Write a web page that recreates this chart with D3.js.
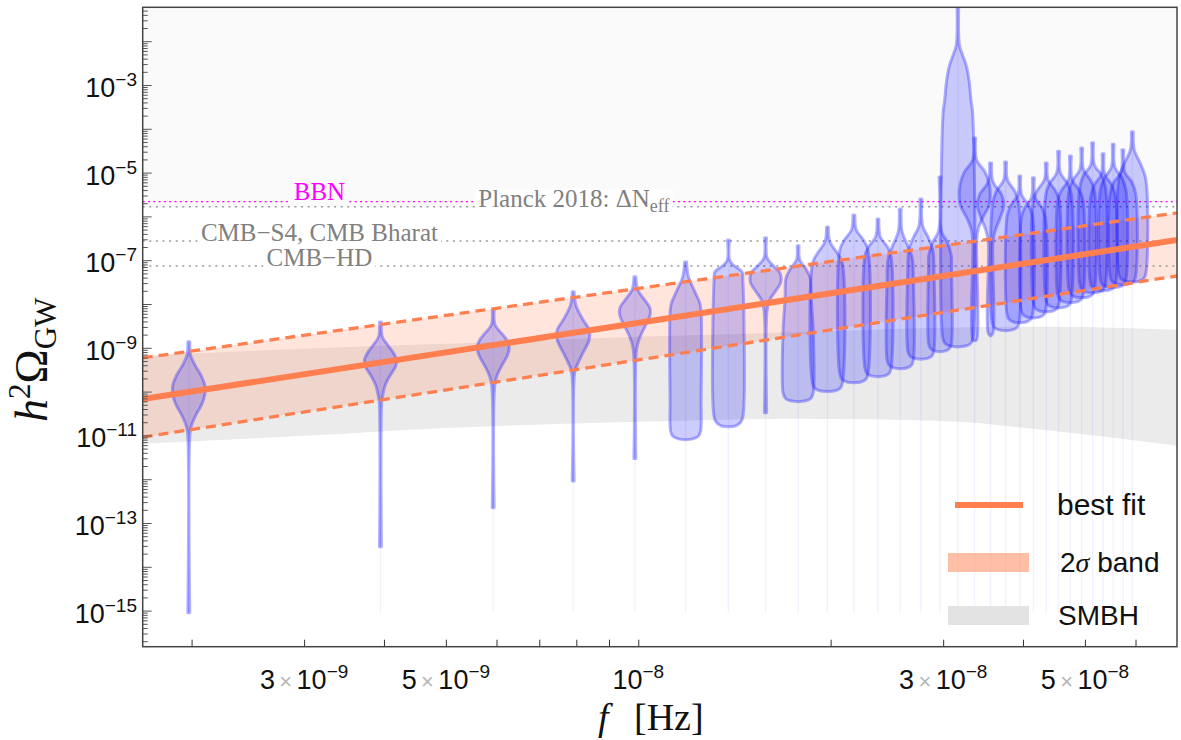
<!DOCTYPE html>
<html>
<head>
<meta charset="utf-8">
<script src="https://cdn.jsdelivr.net/npm/d3@7"></script>
<style>
  html, body { margin: 0; padding: 0; background: #fff; }
  svg { display: block; }
</style>
</head>
<body>
<svg id="chart" width="1181" height="740"></svg>
<script>
// frequency bins (Hz)
const freqs = [1.98e-9, 3.95e-9, 5.93e-9, 7.91e-9, 9.88e-9, 1.186e-8, 1.384e-8, 1.582e-8, 1.779e-8, 1.977e-8,
  2.175e-8, 2.372e-8, 2.570e-8, 2.768e-8, 2.966e-8, 3.163e-8, 3.361e-8, 3.559e-8, 3.757e-8, 3.954e-8,
  4.152e-8, 4.349e-8, 4.547e-8, 4.745e-8, 4.942e-8, 5.140e-8, 5.337e-8, 5.535e-8, 5.733e-8, 5.931e-8];

// violin profiles per bin: [log10 h2Omega, relative density]
const violins = [
  [[-8.86,.06],[-9.18,.12],[-9.39,.38],[-9.62,.75],[-9.85,1],[-10.07,1],[-10.30,.8],[-10.53,.45],[-10.76,.18],[-10.94,.08],[-15.05,.06]],
  [[-8.41,.06],[-8.75,.12],[-8.93,.44],[-9.11,.8],[-9.27,1],[-9.43,.94],[-9.62,.62],[-9.85,.3],[-10.07,.15],[-10.23,.08],[-13.54,.06]],
  [[-8.13,.06],[-8.48,.12],[-8.66,.5],[-8.84,.88],[-9.00,1],[-9.18,.88],[-9.39,.56],[-9.62,.25],[-9.85,.1],[-12.65,.06]],
  [[-7.72,.06],[-8.04,.18],[-8.36,.62],[-8.59,1],[-8.82,1],[-9.11,.62],[-9.39,.25],[-9.55,.1],[-12.04,.06]],
  [[-7.38,.06],[-7.68,.18],[-7.91,.62],[-8.09,.94],[-8.27,.94],[-8.52,.62],[-8.82,.25],[-9.05,.1],[-11.53,.06]],
  [[-7.04,.06],[-7.38,.18],[-7.75,.62],[-7.97,.88],[-8.18,.97],[-10.19,.97],[-10.90,.94],[-11.02,.8],[-11.08,.45],[-11.10,0]],
  [[-6.54,.06],[-6.99,.07],[-7.11,.3],[-7.27,.85],[-7.45,.9],[-10.45,.94],[-10.68,.8],[-10.78,.45],[-10.80,0]],
  [[-6.49,.06],[-6.95,.1],[-7.13,.5],[-7.29,.9],[-7.50,.95],[-7.72,.6],[-7.91,.25],[-8.13,.1],[-10.48,.07]],
  [[-6.67,.06],[-6.99,.1],[-7.18,.45],[-7.40,.75],[-7.91,.82],[-8.59,.94],[-10.03,.94],[-10.15,.8],[-10.21,.47],[-10.23,0]],
  [[-6.24,.06],[-6.58,.15],[-6.83,.6],[-7.06,.92],[-9.80,.94],[-9.92,.8],[-9.98,.47],[-10.00,0]],
  [[-5.97,.06],[-6.31,.15],[-6.54,.6],[-6.77,.88],[-9.60,.88],[-9.72,.75],[-9.78,.44],[-9.80,0]],
  [[-6.06,.06],[-6.47,.15],[-6.70,.6],[-6.92,.82],[-9.46,.82],[-9.58,.7],[-9.64,.41],[-9.66,0]],
  [[-5.83,.06],[-6.35,.12],[-6.65,.45],[-6.95,.75],[-7.40,.82],[-9.28,.82],[-9.40,.7],[-9.46,.41],[-9.48,0]],
  [[-5.60,.06],[-6.22,.12],[-6.47,.45],[-6.77,.75],[-7.22,.82],[-9.06,.82],[-9.18,.7],[-9.24,.41],[-9.26,0]],
  [[-5.10,.06],[-6.35,.1],[-6.58,.45],[-6.88,.7],[-7.22,.72],[-8.89,.72],[-9.01,.6],[-9.07,.36],[-9.09,0]],
  [[-1.10,.06],[-2.09,.1],[-2.32,.3],[-2.59,.55],[-2.95,.72],[-3.34,.82],[-3.62,.92],[-8.78,.94],[-8.90,.8],[-8.96,.47],[-8.98,0]],
  [[-4.21,.06],[-4.71,.12],[-4.99,.65],[-5.28,.92],[-5.74,.9],[-6.03,.5],[-6.31,.2],[-6.60,.12],[-8.82,.12],[-8.84,0]],
  [[-4.78,.06],[-5.21,.15],[-5.51,.7],[-5.76,.82],[-6.03,.6],[-6.31,.3],[-6.58,.15],[-8.66,.15],[-8.73,0]],
  [[-4.76,.06],[-5.17,.12],[-5.44,.6],[-5.74,.82],[-8.41,.85],[-8.53,.72],[-8.59,.42],[-8.61,0]],
  [[-5.08,.06],[-5.51,.12],[-5.74,.55],[-5.97,.78],[-8.23,.8],[-8.35,.68],[-8.41,.4],[-8.43,0]],
  [[-5.12,.06],[-5.58,.12],[-5.81,.55],[-6.03,.75],[-8.12,.78],[-8.24,.66],[-8.30,.39],[-8.32,0]],
  [[-4.78,.06],[-5.17,.12],[-5.40,.55],[-5.62,.8],[-7.98,.8],[-8.10,.68],[-8.16,.4],[-8.18,0]],
  [[-4.51,.06],[-5.01,.12],[-5.24,.55],[-5.51,.8],[-7.89,.8],[-8.01,.68],[-8.07,.4],[-8.09,0]],
  [[-4.62,.06],[-5.17,.12],[-5.40,.55],[-5.62,.78],[-7.77,.8],[-7.89,.68],[-7.95,.4],[-7.97,0]],
  [[-4.44,.06],[-4.94,.12],[-5.17,.55],[-5.44,.8],[-7.66,.8],[-7.78,.68],[-7.84,.4],[-7.86,0]],
  [[-4.32,.06],[-4.83,.12],[-5.05,.55],[-5.33,.8],[-7.55,.8],[-7.67,.68],[-7.73,.4],[-7.75,0]],
  [[-4.57,.06],[-5.05,.12],[-5.28,.55],[-5.56,.78],[-7.50,.8],[-7.62,.68],[-7.68,.4],[-7.70,0]],
  [[-4.35,.06],[-4.89,.12],[-5.12,.55],[-5.40,.8],[-7.43,.8],[-7.55,.68],[-7.61,.4],[-7.63,0]],
  [[-4.48,.06],[-4.99,.12],[-5.21,.55],[-5.49,.8],[-7.36,.8],[-7.48,.68],[-7.54,.4],[-7.56,0]],
  [[-4.07,.06],[-4.48,.12],[-4.83,.55],[-5.17,.85],[-7.30,.85],[-7.42,.72],[-7.48,.43],[-7.50,0]]
];
const tailEnd = -15.05;

// power-law fit and 2 sigma band (log10 h2Omega at the two ends of the range)
const fitFreq = [1.677e-9, 6.967e-8];
const bestFit = [-10.17, -6.54];
const bandHi = [-9.23, -5.92];
const bandLo = [-11.04, -7.36];

// SMBH band (log10 h2Omega)
const smbhFreq = [1.68e-9, 3e-9, 5e-9, 1e-8, 1.8e-8, 3e-8, 4.4e-8, 7e-8];
const smbhHi = [-9.18, -9.02, -8.91, -8.75, -8.64, -8.54, -8.52, -8.59];
const smbhLo = [-11.19, -11.01, -10.83, -10.69, -10.62, -10.67, -10.89, -11.24];

// N_eff bounds
const boundNames = ['BBN', 'Planck 2018: ΔN', 'CMB−S4, CMB Bharat', 'CMB−HD'];
const boundValues = [2.17e-6, 1.66e-6, 2.74e-7, 7.4e-8];

const xTickLabels = [3e-9, 5e-9, 1e-8, 3e-8, 5e-8];
const yTickLabels = [1e-15, 1e-13, 1e-11, 1e-9, 1e-7, 1e-5, 1e-3];
const legendNames = ['best fit', '2σ band', 'SMBH'];

const coral = '#ff7f50';
const shade = '#fafafa';
const padding = { top: 7.3, right: 4, bottom: 93.3, left: 142.7 };
const W = 1181, H = 740;
const svg = d3.select('#chart');
const sans = '"Liberation Sans", Arial, Helvetica, sans-serif';
const serif = '"Liberation Serif", "Times New Roman", serif';

const x = d3.scaleLog().domain(fitFreq).range([padding.left, W - padding.right]);
const y = d3.scaleLog().domain([Math.pow(10, -15.824), Math.pow(10, -1.226)]).range([H - padding.bottom, padding.top]);
const p10 = v => Math.pow(10, v);
const wScale = d3.scaleLinear().domain([0, 1]).range([0, 16]);

svg.append('clipPath').attr('id', 'plotClip')
  .append('rect')
  .attr('x', x.range()[0]).attr('y', y.range()[1])
  .attr('width', x.range()[1] - x.range()[0])
  .attr('height', y.range()[0] - y.range()[1]);

const plot = svg.append('g').attr('clip-path', 'url(#plotClip)');

// excluded region above Planck bound
plot.append('rect')
  .attr('x', x.range()[0]).attr('y', y.range()[1])
  .attr('width', x.range()[1] - x.range()[0])
  .attr('height', y(boundValues[1]) - y.range()[1])
  .attr('fill', shade);

// SMBH band
const smbhData = smbhFreq.map((f, i) => ({ f, hi: smbhHi[i], lo: smbhLo[i] }));
plot.append('path')
  .datum(smbhData)
  .attr('d', d3.area().x(d => x(d.f)).y0(d => y(p10(d.lo))).y1(d => y(p10(d.hi))).curve(d3.curveMonotoneX))
  .attr('fill', '#ebebeb');

// 2 sigma band fill
const bandData = fitFreq.map((f, i) => ({ f, hi: bandHi[i], lo: bandLo[i], best: bestFit[i] }));
plot.append('path')
  .datum(bandData)
  .attr('d', d3.area().x(d => x(d.f)).y0(d => y(p10(d.lo))).y1(d => y(p10(d.hi))))
  .attr('fill', coral).attr('fill-opacity', 0.2);

// bound lines with labels
const labelF = [3.17e-9, 7.93e-9, 3.17e-9, 3.17e-9];
const boundColor = ['#ff00ff', '#999', '#999', '#999'];
boundValues.forEach((v, i) => {
  plot.append('line')
    .attr('x1', x.range()[0]).attr('x2', x.range()[1])
    .attr('y1', y(v)).attr('y2', y(v))
    .attr('stroke', boundColor[i]).attr('stroke-width', 1.4)
    .attr('stroke-dasharray', i === 0 ? '2,3.3' : '2,4.6');
});
boundNames.forEach((name, i) => {
  const g = plot.append('g');
  const t = g.append('text')
    .attr('x', x(labelF[i])).attr('y', y(boundValues[i]) - (i === 0 ? 2 : 0))
    .attr('text-anchor', 'middle')
    .attr('font-family', serif).attr('font-size', 25)
    .attr('fill', i === 0 ? '#ff00ff' : '#808080')
    .text(name);
  if (i === 1) {
    t.append('tspan').attr('font-size', 18).attr('dy', 5).text('eff');
  }
  const bb = t.node().getBBox();
  g.insert('rect', 'text')
    .attr('x', bb.x - 3).attr('y', bb.y + 4)
    .attr('width', bb.width + 6).attr('height', bb.height - 3)
    .attr('fill', i === 0 ? shade : '#fff');
});

// faint tails of each violin
plot.selectAll('.tail')
  .data(freqs)
  .join('line')
  .attr('class', 'tail')
  .attr('x1', d => x(d)).attr('x2', d => x(d))
  .attr('y1', (d, i) => y(p10(violins[i][0][0])))
  .attr('y2', y(p10(tailEnd)))
  .attr('stroke', 'rgba(0,0,255,0.05)').attr('stroke-width', 1.5);

// violins
const violinArea = d3.area()
  .y(d => y(p10(d[0])))
  .x0(d => -wScale(d[1]))
  .x1(d => wScale(d[1]))
  .curve(d3.curveCatmullRom.alpha(0.5));

plot.selectAll('.violin')
  .data(violins)
  .join('path')
  .attr('class', 'violin')
  .attr('transform', (d, i) => `translate(${x(freqs[i])},0)`)
  .attr('d', violinArea)
  .attr('fill', 'rgba(0,0,255,0.2)')
  .attr('stroke', 'rgba(30,30,255,0.34)')
  .attr('stroke-width', 3)
  .attr('stroke-linejoin', 'round');

// best fit and band edges
const fitLine = key => d3.line().x(d => x(d.f)).y(d => y(p10(d[key])));
plot.append('path').datum(bandData).attr('d', fitLine('hi'))
  .attr('fill', 'none').attr('stroke', coral).attr('stroke-width', 3.3).attr('stroke-dasharray', '10,6');
plot.append('path').datum(bandData).attr('d', fitLine('lo'))
  .attr('fill', 'none').attr('stroke', coral).attr('stroke-width', 3.3).attr('stroke-dasharray', '10,6');
plot.append('path').datum(bandData).attr('d', fitLine('best'))
  .attr('fill', 'none').attr('stroke', coral).attr('stroke-width', 6);

// x axis
const xTicks = [2e-9, 3e-9, 4e-9, 5e-9, 6e-9, 7e-9, 8e-9, 9e-9, 1e-8, 2e-8, 3e-8, 4e-8, 5e-8, 6e-8];
const xAxis = svg.append('g')
  .attr('transform', `translate(0,${y.range()[0]})`)
  .call(d3.axisBottom(x).tickValues(xTicks).tickSize(-7).tickFormat(''));
xAxis.select('.domain').remove();
xAxis.selectAll('.tick line').attr('stroke', '#333');

const expo = v => Math.round(Math.log10(v));
const xLab = svg.append('g').attr('font-family', sans).attr('font-size', 27).attr('fill', '#111');
xTickLabels.forEach(v => {
  const e = Math.floor(Math.log10(v) + 1e-9);
  const m = Math.round(v / Math.pow(10, e));
  const t = xLab.append('text').attr('x', x(v)).attr('y', 689).attr('text-anchor', 'middle');
  if (m !== 1) {
    t.append('tspan').text(m);
    t.append('tspan').attr('fill', '#b5b5b5').attr('font-size', 22).text('\u2009×\u2009');
  }
  t.append('tspan').text('10');
  t.append('tspan').attr('font-size', 19).attr('dy', -11).text('−' + Math.abs(e));
});

// y axis
const yTicks = [];
for (let e = -16; e <= -2; e++) {
  for (let m = 1; m <= 9; m++) {
    const v = m * Math.pow(10, e);
    if (v >= y.domain()[0] && v <= y.domain()[1]) yTicks.push(v);
  }
}
const yAxis = svg.append('g')
  .attr('transform', `translate(${x.range()[0]},0)`)
  .call(d3.axisLeft(y).tickValues(yTicks).tickSize(-5).tickFormat(''));
yAxis.select('.domain').remove();
yAxis.selectAll('.tick line')
  .attr('x2', d => Math.abs(Math.log10(d) - Math.round(Math.log10(d))) < 1e-6 ? 9 : 5)
  .attr('stroke', '#555');

const yLab = svg.append('g').attr('font-family', sans).attr('font-size', 27).attr('fill', '#111');
yTickLabels.forEach(v => {
  const t = yLab.append('text').attr('x', 137).attr('y', y(v) + 12).attr('text-anchor', 'end');
  t.append('tspan').text('10');
  t.append('tspan').attr('font-size', 19).attr('dy', -11).text('−' + Math.abs(expo(v)));
});

// frame
svg.append('rect')
  .attr('x', x.range()[0]).attr('y', y.range()[1])
  .attr('width', x.range()[1] - x.range()[0])
  .attr('height', y.range()[0] - y.range()[1])
  .attr('fill', 'none').attr('stroke', '#444').attr('stroke-width', 1.5);

// axis titles
const yt = svg.append('text')
  .attr('transform', 'translate(47,422) rotate(-90)')
  .attr('text-anchor', 'start')
  .attr('font-family', serif).attr('font-size', 46).attr('fill', '#111');
yt.append('tspan').attr('font-style', 'italic').text('h');
yt.append('tspan').attr('font-size', 31).attr('dy', -17).text('2');
yt.append('tspan').attr('dy', 17).text('Ω');
yt.append('tspan').attr('font-size', 31).attr('dy', 9).text('GW');

const xt = svg.append('text')
  .attr('y', 730)
  .attr('font-family', serif).attr('font-size', 38).attr('fill', '#111');
xt.append('tspan').attr('x', 598).attr('font-style', 'italic').text('f');
xt.append('tspan').attr('x', 634).text('[Hz]');

// legend
const leg = svg.append('g').attr('font-family', sans).attr('font-size', 28).attr('fill', '#111');
leg.append('line').attr('x1', 955).attr('x2', 1023).attr('y1', 505).attr('y2', 505)
  .attr('stroke', coral).attr('stroke-width', 6);
leg.append('rect').attr('x', 948).attr('y', 553).attr('width', 81).attr('height', 19)
  .attr('fill', coral).attr('fill-opacity', 0.5);
leg.append('rect').attr('x', 948).attr('y', 606).attr('width', 81).attr('height', 19)
  .attr('fill', '#e3e3e3');
const legY = [505, 562, 615];
const legX = [1057, 1060, 1058];
legendNames.forEach((name, i) => {
  const t = leg.append('text').attr('x', legX[i]).attr('y', legY[i] + 10);
  if (name.includes('σ')) {
    t.append('tspan').text('2');
    t.append('tspan').attr('font-style', 'italic').attr('font-family', serif).text('σ');
    t.append('tspan').text(' band');
  } else {
    t.attr('font-size', name === 'best fit' ? 30 : 28).text(name);
  }
});
</script>
</body>
</html>
